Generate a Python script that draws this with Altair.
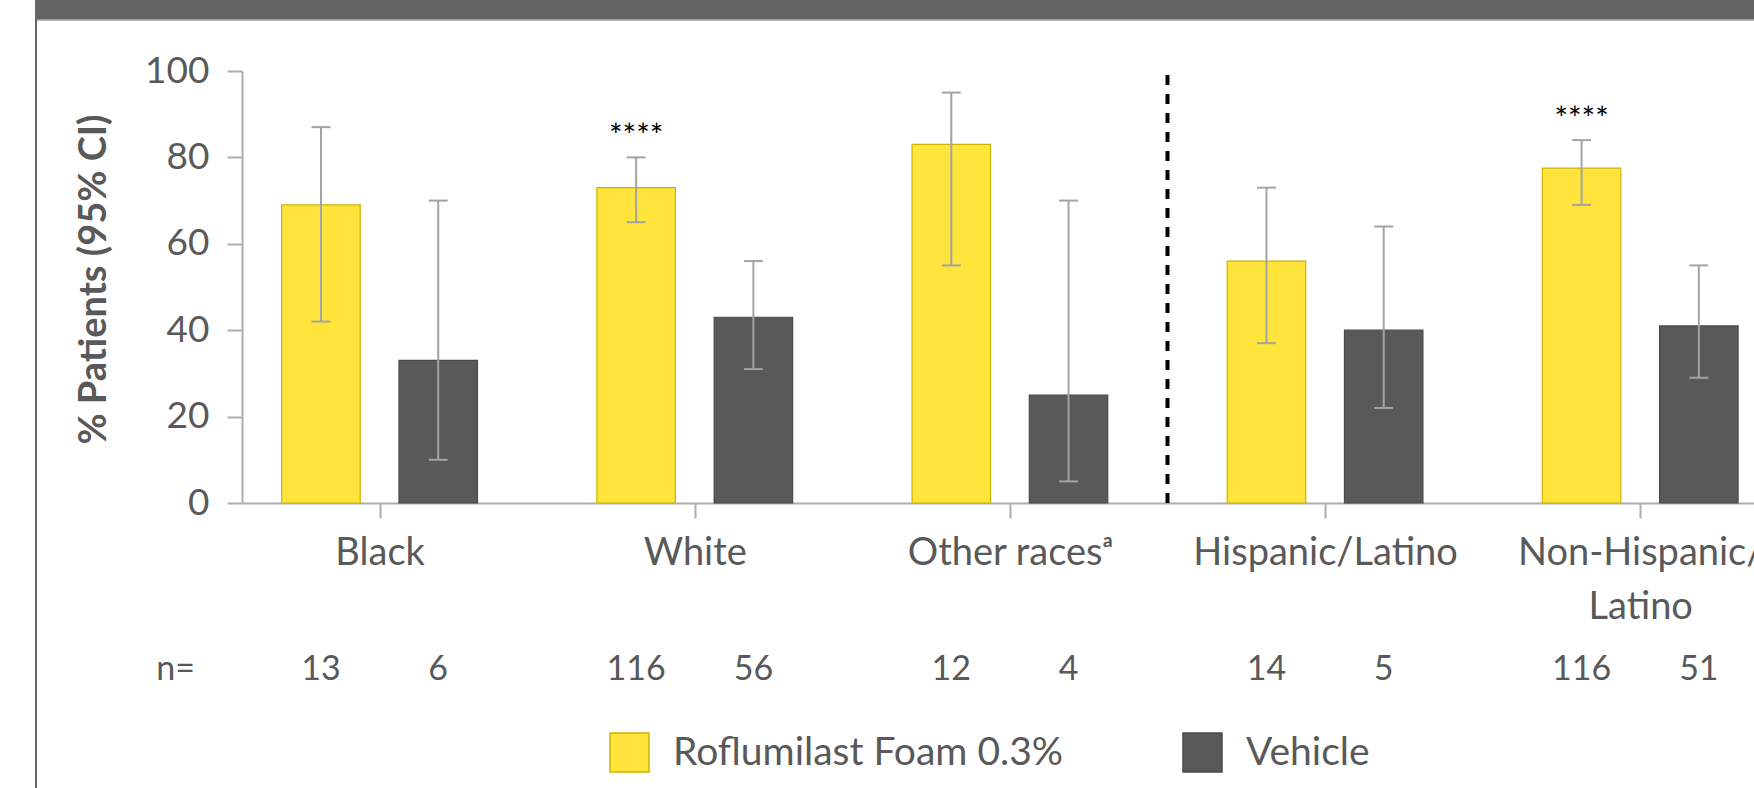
import altair as alt
import pandas as pd
import json

# ---- data ----
groups = ["Black", "White", "Other races", "Hispanic/Latino", "Non-Hispanic/Latino"]
rof_pct = [69, 73, 83, 56, 77.5]
rof_lo = [42, 65, 55, 37, 69]
rof_hi = [87, 80, 95, 73, 84]
veh_pct = [33, 43, 25, 40, 41]
veh_lo = [10, 31, 5, 22, 29]
veh_hi = [70, 56, 70, 64, 55]
rof_n = [13, 116, 12, 14, 116]
veh_n = [6, 56, 4, 5, 51]
rof_sig = ["", "****", "", "", "****"]
veh_sig = ["", "", "", "", ""]
series = ["Roflumilast Foam 0.3%", "Vehicle"]
y_ticks = [0, 20, 40, 60, 80, 100]
axis_labels = ["Black", "White", "Other races\u1d43", "Hispanic/Latino", ["Non-Hispanic/", "Latino"]]

rows = []
for i, g in enumerate(groups):
    rows.append(dict(idx=i, group=g, series=series[0], pct=rof_pct[i], lo=rof_lo[i],
                     hi=rof_hi[i], n=str(rof_n[i]), sig=rof_sig[i], side=-1))
    rows.append(dict(idx=i, group=g, series=series[1], pct=veh_pct[i], lo=veh_lo[i],
                     hi=veh_hi[i], n=str(veh_n[i]), sig=veh_sig[i], side=1))
df = pd.DataFrame(rows)

GRAY = "#595959"
AXIS = "#ADADAD"
FONT = "Lato"
OFF = 0.186     # bar centre offset from group centre (in group steps)
HALF = 0.1245   # half bar width
CAP = 0.03      # half cap width

label_expr = json.dumps(axis_labels, ensure_ascii=False) + "[datum.value]"

xscale = alt.Scale(domain=[-0.4366, 4.361], nice=False, zero=False)
yscale = alt.Scale(domain=[0, 100], nice=False)

base = alt.Chart(df).transform_calculate(
    pos=f"datum.idx + datum.side * {OFF}",
    bx1=f"datum.idx + datum.side * {OFF} - {HALF}",
    bx2=f"datum.idx + datum.side * {OFF} + {HALF}",
    cx1=f"datum.idx + datum.side * {OFF} - {CAP}",
    cx2=f"datum.idx + datum.side * {OFF} + {CAP}",
)

color = alt.Color("series:N", scale=alt.Scale(domain=series, range=["#FFE53B", GRAY]),
                  legend=alt.Legend(title=None, orient="none", direction="horizontal",
                                    legendX=367, legendY=661, symbolType="square",
                                    symbolSize=1521, symbolStrokeWidth=1.5,
                                    labelFont=FONT, labelFontSize=39, labelColor=GRAY,
                                    labelOffset=23, columnPadding=116, padding=0,
                                    labelLimit=700))
stroke = alt.Stroke("series:N", scale=alt.Scale(domain=series, range=["#CDB400", "#4A4A4A"]),
                    legend=None)

bars = base.mark_rect(strokeWidth=1.2).encode(
    x=alt.X("bx1:Q", scale=xscale,
            axis=alt.Axis(values=[0, 1, 2, 3, 4], labelExpr=label_expr, title=None,
                          grid=False, domainColor=AXIS, domainWidth=2, tickColor=AXIS,
                          tickWidth=2, tickSize=15, labelFont=FONT, labelFontSize=38,
                          labelColor=GRAY, labelPadding=16, labelLineHeight=54,
                          labelLimit=600, labelFlush=False, labelOverlap=False,
                          labelBound=False)),
    x2="bx2:Q",
    y=alt.Y("pct:Q", scale=yscale,
            axis=alt.Axis(values=y_ticks, title="% Patients (95% CI)", grid=False,
                          domainColor=AXIS, domainWidth=2, tickColor=AXIS, tickWidth=2,
                          tickSize=15, labelFont=FONT, labelFontSize=37, labelColor=GRAY,
                          labelPadding=18, titleFont=FONT, titleFontSize=38,
                          titleFontWeight="bold", titleColor=GRAY, titleX=-148,
                          titleY=208, titleAngle=-90, titleAlign="center",
                          titleBaseline="middle")),
    y2=alt.datum(0),
    fill=color,
    stroke=stroke,
)

err = base.mark_rule(color="#A3A3A3", strokeWidth=2).encode(
    x="pos:Q", y="lo:Q", y2="hi:Q")
cap_hi = base.mark_rule(color="#A3A3A3", strokeWidth=2).encode(
    x="cx1:Q", x2="cx2:Q", y="hi:Q")
cap_lo = base.mark_rule(color="#A3A3A3", strokeWidth=2).encode(
    x="cx1:Q", x2="cx2:Q", y="lo:Q")

stars = base.transform_filter("datum.sig != ''").mark_text(
    font=FONT, fontSize=32, color="black", baseline="alphabetic", dy=-10
).encode(x="pos:Q", y="hi:Q", text="sig:N")

ntext = base.mark_text(font=FONT, fontSize=34, color=GRAY, baseline="middle").encode(
    x="pos:Q", y=alt.value(599), text="n:N")
nlabel = alt.Chart(pd.DataFrame({"t": ["n="]})).mark_text(
    font=FONT, fontSize=34, color=GRAY, baseline="middle", align="right").encode(
    x=alt.value(-47), y=alt.value(599), text="t:N")

divider = alt.Chart(pd.DataFrame({"d": [0]})).mark_rule(
    color="black", strokeWidth=4, strokeDash=[10, 9]).encode(
    x=alt.datum(2.5), y=alt.datum(0), y2=alt.datum(100.5))

band = alt.Chart(pd.DataFrame({"d": [0]})).mark_rect(color="#636363").encode(
    x=alt.value(-207), x2=alt.value(1512), y=alt.value(-71), y2=alt.value(-51.5))
band_edge = alt.Chart(pd.DataFrame({"d": [0]})).mark_rule(color="#9A9A9A", strokeWidth=1.5).encode(
    x=alt.value(-205), x2=alt.value(1512), y=alt.value(-51))
frame = alt.Chart(pd.DataFrame({"d": [0]})).mark_rect(color="#666666").encode(
    x=alt.value(-207), x2=alt.value(-205), y=alt.value(-71), y2=alt.value(717))

chart = alt.layer(band, band_edge, frame, bars, err, cap_hi, cap_lo, stars, divider,
                  ntext, nlabel).properties(
    width=1512, height=432,
    padding={"left": 242, "top": 71, "right": 0, "bottom": 285},
    autosize=alt.AutoSizeParams(type="none"),
    background="white",
).configure_view(stroke=None)

chart.save("out.html", embed_options={"renderer": "svg", "actions": False})
